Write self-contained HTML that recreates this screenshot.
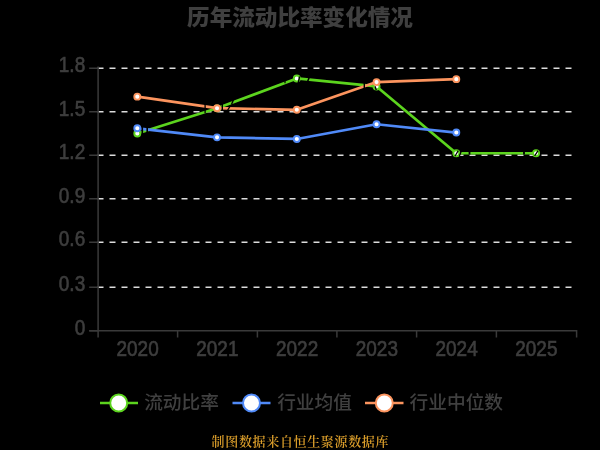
<!DOCTYPE html>
<html><head><meta charset="utf-8"><style>
html,body{margin:0;padding:0;background:#000;}
body{width:600px;height:450px;overflow:hidden;}
svg{display:block;filter:blur(0.45px);}
.ax text{font-family:"Liberation Sans","Noto Sans CJK SC",sans-serif;font-size:19px;fill:#3e3e3e;stroke:#3e3e3e;stroke-width:0.55px;}
.title{font-family:"Liberation Sans","Noto Sans CJK SC",sans-serif;font-size:22.6px;font-weight:900;fill:#3f3f3f;}
.leg{font-family:"Liberation Sans","Noto Sans CJK SC",sans-serif;font-size:18.7px;font-weight:500;fill:#404040;}
.src{font-family:"Liberation Serif","Noto Serif CJK SC",serif;font-size:13px;letter-spacing:0.66px;font-weight:600;fill:#d89c2a;}
</style></head><body>
<svg width="600" height="450" viewBox="0 0 600 450">
<rect width="600" height="450" fill="#000"/>
<text class="title" transform="translate(300,25.4) scale(1,0.96)" text-anchor="middle">历年流动比率变化情况</text>
<g class="grid">
<line x1="97.5" y1="287.25" x2="576.6" y2="287.25" stroke="#dcdcdc" stroke-width="1.5" stroke-dasharray="6,6"/>
<line x1="97.5" y1="242.25" x2="576.6" y2="242.25" stroke="#dcdcdc" stroke-width="1.5" stroke-dasharray="6,6"/>
<line x1="97.5" y1="198.75" x2="576.6" y2="198.75" stroke="#dcdcdc" stroke-width="1.5" stroke-dasharray="6,6"/>
<line x1="97.5" y1="155.25" x2="576.6" y2="155.25" stroke="#dcdcdc" stroke-width="1.5" stroke-dasharray="6,6"/>
<line x1="97.5" y1="111.75" x2="576.6" y2="111.75" stroke="#dcdcdc" stroke-width="1.5" stroke-dasharray="6,6"/>
<line x1="97.5" y1="68.25" x2="576.6" y2="68.25" stroke="#dcdcdc" stroke-width="1.5" stroke-dasharray="6,6"/>
</g>
<g class="axis">
<line x1="98.1" y1="66.6" x2="98.1" y2="331.5" stroke="#3a3a3a" stroke-width="1.5"/>
<line x1="89.2" y1="330.75" x2="576.6" y2="330.75" stroke="#3a3a3a" stroke-width="1.5"/>
<line x1="89.2" y1="330.75" x2="98.1" y2="330.75" stroke="#3a3a3a" stroke-width="1.5"/>
<line x1="89.2" y1="287.25" x2="98.1" y2="287.25" stroke="#3a3a3a" stroke-width="1.5"/>
<line x1="89.2" y1="242.25" x2="98.1" y2="242.25" stroke="#3a3a3a" stroke-width="1.5"/>
<line x1="89.2" y1="198.75" x2="98.1" y2="198.75" stroke="#3a3a3a" stroke-width="1.5"/>
<line x1="89.2" y1="155.25" x2="98.1" y2="155.25" stroke="#3a3a3a" stroke-width="1.5"/>
<line x1="89.2" y1="111.75" x2="98.1" y2="111.75" stroke="#3a3a3a" stroke-width="1.5"/>
<line x1="89.2" y1="68.25" x2="98.1" y2="68.25" stroke="#3a3a3a" stroke-width="1.5"/>
<line x1="98.1" y1="330" x2="98.1" y2="337.5" stroke="#3a3a3a" stroke-width="1.5"/>
<line x1="177.6" y1="330" x2="177.6" y2="337.5" stroke="#3a3a3a" stroke-width="1.5"/>
<line x1="257.4" y1="330" x2="257.4" y2="337.5" stroke="#3a3a3a" stroke-width="1.5"/>
<line x1="336.9" y1="330" x2="336.9" y2="337.5" stroke="#3a3a3a" stroke-width="1.5"/>
<line x1="416.6" y1="330" x2="416.6" y2="337.5" stroke="#3a3a3a" stroke-width="1.5"/>
<line x1="496.4" y1="330" x2="496.4" y2="337.5" stroke="#3a3a3a" stroke-width="1.5"/>
<line x1="576.6" y1="330" x2="576.6" y2="337.5" stroke="#3a3a3a" stroke-width="1.5"/>
</g>
<g class="ax">
<text transform="translate(85.2,334.75) scale(1,1.12)" text-anchor="end">0</text>
<text transform="translate(85.2,291.25) scale(1,1.12)" text-anchor="end">0.3</text>
<text transform="translate(85.2,246.25) scale(1,1.12)" text-anchor="end">0.6</text>
<text transform="translate(85.2,202.75) scale(1,1.12)" text-anchor="end">0.9</text>
<text transform="translate(85.2,159.25) scale(1,1.12)" text-anchor="end">1.2</text>
<text transform="translate(85.2,115.75) scale(1,1.12)" text-anchor="end">1.5</text>
<text transform="translate(85.2,72.25) scale(1,1.12)" text-anchor="end">1.8</text>
<text transform="translate(137.6,355.6) scale(1,1.12)" text-anchor="middle">2020</text>
<text transform="translate(217.35,355.6) scale(1,1.12)" text-anchor="middle">2021</text>
<text transform="translate(297.1,355.6) scale(1,1.12)" text-anchor="middle">2022</text>
<text transform="translate(376.85,355.6) scale(1,1.12)" text-anchor="middle">2023</text>
<text transform="translate(456.6,355.6) scale(1,1.12)" text-anchor="middle">2024</text>
<text transform="translate(536.35,355.6) scale(1,1.12)" text-anchor="middle">2025</text>
</g>
<polyline points="137.3,133.56 217.05,108.33 296.8,78.44 376.55,86.46 456.3,153.25 536.05,153.25" stroke="#5cd41e" fill="none" stroke-width="2.7" stroke-linejoin="round"/>
<circle cx="137.3" cy="133.56" r="3.0" fill="#fff" stroke="#5cd41e" stroke-width="1.9"/>
<circle cx="217.05" cy="108.33" r="3.0" fill="#fff" stroke="#5cd41e" stroke-width="1.9"/>
<circle cx="296.8" cy="78.44" r="3.0" fill="#fff" stroke="#5cd41e" stroke-width="1.9"/>
<circle cx="376.55" cy="86.46" r="3.0" fill="#fff" stroke="#5cd41e" stroke-width="1.9"/>
<circle cx="456.3" cy="153.25" r="3.0" fill="#fff" stroke="#5cd41e" stroke-width="1.9"/>
<circle cx="536.05" cy="153.25" r="3.0" fill="#fff" stroke="#5cd41e" stroke-width="1.9"/>
<polyline points="137.3,128.31 217.05,137.35 296.8,138.96 376.55,124.23 456.3,132.54" stroke="#508af8" fill="none" stroke-width="2.7" stroke-linejoin="round"/>
<circle cx="137.3" cy="128.31" r="3.0" fill="#fff" stroke="#508af8" stroke-width="1.9"/>
<circle cx="217.05" cy="137.35" r="3.0" fill="#fff" stroke="#508af8" stroke-width="1.9"/>
<circle cx="296.8" cy="138.96" r="3.0" fill="#fff" stroke="#508af8" stroke-width="1.9"/>
<circle cx="376.55" cy="124.23" r="3.0" fill="#fff" stroke="#508af8" stroke-width="1.9"/>
<circle cx="456.3" cy="132.54" r="3.0" fill="#fff" stroke="#508af8" stroke-width="1.9"/>
<polyline points="137.3,96.67 217.05,108.19 296.8,109.79 376.55,82.08 456.3,79.17" stroke="#fc945e" fill="none" stroke-width="2.7" stroke-linejoin="round"/>
<circle cx="137.3" cy="96.67" r="3.0" fill="#fff" stroke="#fc945e" stroke-width="1.9"/>
<circle cx="217.05" cy="108.19" r="3.0" fill="#fff" stroke="#fc945e" stroke-width="1.9"/>
<circle cx="296.8" cy="109.79" r="3.0" fill="#fff" stroke="#fc945e" stroke-width="1.9"/>
<circle cx="376.55" cy="82.08" r="3.0" fill="#fff" stroke="#fc945e" stroke-width="1.9"/>
<circle cx="456.3" cy="79.17" r="3.0" fill="#fff" stroke="#fc945e" stroke-width="1.9"/>
<g>
<line x1="142.3" y1="125.5" x2="142.3" y2="134.5" stroke="#000" stroke-width="1.6"/>
<line x1="147.2" y1="126" x2="147.2" y2="133.5" stroke="#000" stroke-width="1.6"/>
<line x1="205.1" y1="103.5" x2="205.1" y2="113.3" stroke="#000" stroke-width="1.3"/>
<line x1="222.3" y1="103" x2="222.3" y2="110.6" stroke="#000" stroke-width="1.4"/>
<line x1="227.2" y1="111" x2="230.4" y2="105.6" stroke="#000" stroke-width="1.3"/>
<line x1="231.5" y1="104.6" x2="233.6" y2="99.6" stroke="#000" stroke-width="1.4"/>
<line x1="285" y1="81" x2="285" y2="83.3" stroke="#000" stroke-width="1.2"/>
<line x1="298.2" y1="83" x2="299.6" y2="76.5" stroke="#000" stroke-width="1.3"/>
<line x1="307.2" y1="82.5" x2="309.2" y2="77.5" stroke="#000" stroke-width="1.5"/>
<line x1="364.3" y1="80" x2="364.3" y2="92" stroke="#000" stroke-width="1.4"/>
<line x1="375.0" y1="86.2" x2="376.3" y2="90.0" stroke="#000" stroke-width="1.3"/>
<line x1="454.9" y1="156.2" x2="458.3" y2="150.6" stroke="#000" stroke-width="1.2"/>
<line x1="459.4" y1="156" x2="461.4" y2="150.8" stroke="#000" stroke-width="1.3"/>
<line x1="469.5" y1="150.5" x2="469.5" y2="154.6" stroke="#000" stroke-width="1.8"/>
<line x1="524" y1="150.5" x2="524" y2="154.6" stroke="#000" stroke-width="1.8"/>
<line x1="534.6" y1="155.8" x2="538.1" y2="150.6" stroke="#000" stroke-width="1.2"/>
</g>
<g class="legend">
<line x1="100" y1="403" x2="138" y2="403" stroke="#5cd41e" stroke-width="2.3"/>
<circle cx="118.7" cy="403" r="8.5" fill="#fff" stroke="#5cd41e" stroke-width="2"/>
<text class="leg" x="144.2" y="409">流动比率</text>
<line x1="232.5" y1="403" x2="270.5" y2="403" stroke="#508af8" stroke-width="2.3"/>
<circle cx="251.5" cy="403" r="8.5" fill="#fff" stroke="#508af8" stroke-width="2"/>
<text class="leg" x="277.2" y="409">行业均值</text>
<line x1="365" y1="403" x2="403.5" y2="403" stroke="#fc945e" stroke-width="2.3"/>
<circle cx="384.3" cy="403" r="8.5" fill="#fff" stroke="#fc945e" stroke-width="2"/>
<text class="leg" x="409.6" y="409">行业中位数</text>
</g>
<text class="src" x="300.4" y="446" text-anchor="middle">制图数据来自恒生聚源数据库</text>
</svg>
</body></html>
